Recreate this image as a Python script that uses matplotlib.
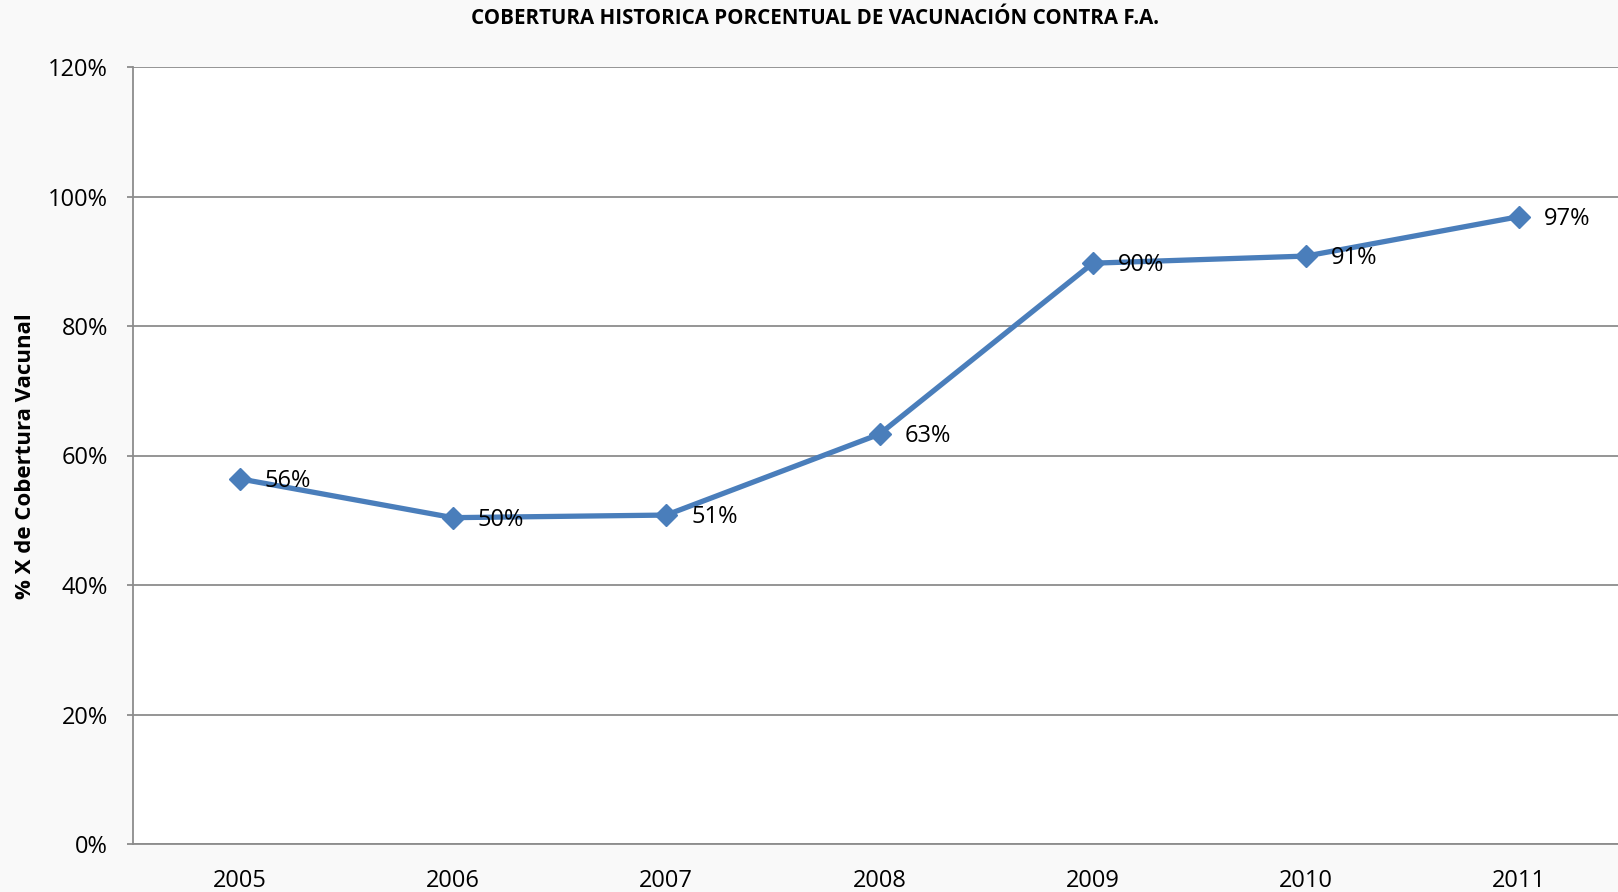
import matplotlib
matplotlib.use("Agg")
import matplotlib.pyplot as plt
from matplotlib.ticker import FuncFormatter, MultipleLocator

years = ["2005", "2006", "2007", "2008", "2009", "2010", "2011"]
coverage = [56.4, 50.4, 50.8, 63.3, 89.7, 90.8, 96.9]
labels = ["56%", "50%", "51%", "63%", "90%", "91%", "97%"]

title = "COBERTURA HISTORICA PORCENTUAL DE VACUNACIÓN CONTRA F.A."
ylabel = "% X de Cobertura Vacunal"

plt.rcParams['font.family'] = ['Open Sans', 'DejaVu Sans']

fig = plt.figure(figsize=(16.18, 8.92), dpi=100, facecolor="#f9f9f9")
ax = fig.add_axes([133/1618, 1-844/892, (1626-133)/1618, (844-67)/892])
ax.set_facecolor("#ffffff")

x = list(range(len(years)))
blue = "#4a7ebb"
ax.plot(x, coverage, color=blue, lw=3.8, marker="D", markersize=11.5,
        markerfacecolor=blue, markeredgecolor=blue, zorder=3, clip_on=False)

for xi, yi, lab in zip(x, coverage, labels):
    ax.annotate(lab, (xi, yi), xytext=(25, -2), textcoords="offset pixels",
                ha="left", va="center", fontsize=17, color="#000000", zorder=4)

ax.set_xlim(-0.5, 6.5)
ax.set_ylim(0, 120)
ax.yaxis.set_major_locator(MultipleLocator(20))
ax.yaxis.set_major_formatter(FuncFormatter(lambda v, p: f"{v:.0f}%"))
ax.set_xticks(x)
ax.set_xticklabels(years)

ax.grid(axis="y", color="#8c8c8c", lw=1.3)
ax.set_axisbelow(True)
for s in ["top", "right"]:
    ax.spines[s].set_visible(False)
for s in ["left", "bottom"]:
    ax.spines[s].set_color("#8c8c8c")
    ax.spines[s].set_linewidth(1.3)

ax.tick_params(axis="y", length=4, width=1.3, color="#8c8c8c", pad=14, labelsize=17)
ax.tick_params(axis="x", length=0, pad=18, labelsize=17)

fig.text(0.504, 1-19/892, title, ha="center", va="center", fontsize=14.8, fontweight="bold")
fig.text(26/1618, 1-456/892, ylabel, ha="center", va="center", rotation=90,
         fontsize=16, fontweight="bold")

fig.savefig("out.png", dpi=100, facecolor=fig.get_facecolor())
